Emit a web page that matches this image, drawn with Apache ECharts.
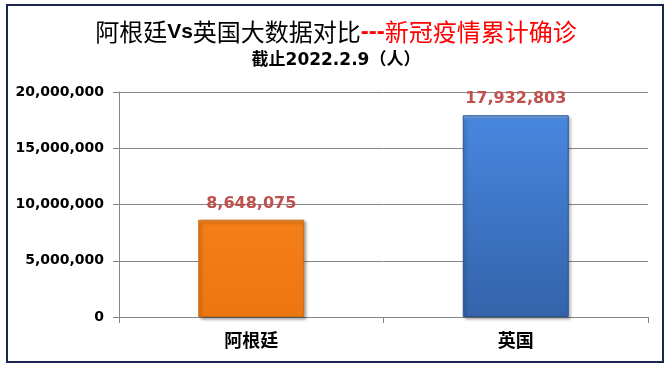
<!DOCTYPE html>
<html>
<head>
<meta charset="utf-8">
<script src="https://cdn.jsdelivr.net/npm/echarts@6/dist/echarts.min.js"></script>
<style>
html,body{margin:0;padding:0;background:#fff;}
#chart{width:672px;height:368px;}
</style>
</head>
<body>
<div id="chart"></div>
<script>
const categories = ['阿根廷', '英国'];
const confirmed = [8648075, 17932803];
const yTicks = [0, 5000000, 10000000, 15000000, 20000000];

const barColors = [
  { fill: ['#f9a24c', '#f47e18', '#ee7610'], border: '#c86a10' },
  { fill: ['#80b5f2', '#4786de', '#3463aa'], border: '#2a5592' }
];

function fmt(v) {
  return String(v).replace(/\B(?=(\d{3})+(?!\d))/g, ',');
}

const chart = echarts.init(document.getElementById('chart'), null, { renderer: 'canvas' });

const data = confirmed.map((v, i) => ({
  value: v,
  itemStyle: {
    color: new echarts.graphic.LinearGradient(0, 0, 0, 1, [
      { offset: 0, color: barColors[i].fill[0] },
      { offset: 0.025, color: barColors[i].fill[1] },
      { offset: 1, color: barColors[i].fill[2] }
    ]),
    borderColor: barColors[i].border,
    borderWidth: 1,
    shadowColor: 'rgba(0,0,0,0.35)',
    shadowBlur: 3,
    shadowOffsetX: 2,
    shadowOffsetY: 2
  }
}));

chart.setOption({
  animation: false,
  backgroundColor: '#ffffff',
  graphic: [{
    type: 'rect',
    shape: { x: 7, y: 5, width: 656, height: 357 },
    style: { fill: 'none', stroke: '#1a2552', lineWidth: 2 },
    silent: true
  }],
  title: [{
    left: 'center',
    top: 15,
    text: '{a|阿根廷}{v|Vs}{a|英国大数据对比}{r|---}{c|新冠疫情累计确诊}',
    textStyle: {
      rich: {
        a: { fontFamily: 'Noto Sans CJK SC', fontSize: 24, color: '#000', fontWeight: 'normal' },
        v: { fontFamily: 'Liberation Sans', fontSize: 21, color: '#000', fontWeight: 'bold' },
        r: { fontFamily: 'Liberation Sans', fontSize: 24, color: '#ff0000', fontWeight: 'bold' },
        c: { fontFamily: 'Noto Sans CJK SC', fontSize: 24, color: '#ff0000', fontWeight: 'normal' }
      }
    }
  }, {
    left: 'center',
    top: 47,
    text: '截止2022.2.9（人）',
    textStyle: {
      fontFamily: 'DejaVu Sans, Noto Sans CJK SC',
      fontSize: 17,
      fontWeight: 'bold',
      color: '#000'
    }
  }],
  grid: { left: 119, right: 24, top: 92, bottom: 51, containLabel: false },
  xAxis: {
    type: 'category',
    data: categories,
    axisLine: { show: true, lineStyle: { color: '#868686', width: 1 } },
    axisTick: { show: true, length: 6, lineStyle: { color: '#868686' } },
    axisLabel: {
      margin: 14,
      color: '#000',
      fontSize: 18,
      fontWeight: 'bold',
      fontFamily: 'Noto Sans CJK SC'
    }
  },
  yAxis: {
    type: 'value',
    min: yTicks[0],
    max: yTicks[yTicks.length - 1],
    interval: yTicks[1] - yTicks[0],
    axisLine: { show: true, lineStyle: { color: '#868686', width: 1 } },
    axisTick: { show: true, length: 6, inside: false, lineStyle: { color: '#868686' } },
    splitLine: { show: true, lineStyle: { color: '#868686', width: 1 } },
    axisLabel: {
      margin: 15,
      color: '#000',
      fontSize: 14,
      fontWeight: 'bold',
      fontFamily: 'DejaVu Sans',
      formatter: v => fmt(v)
    }
  },
  series: [{
    type: 'bar',
    data: data,
    barWidth: 106,
    label: {
      show: true,
      position: 'top',
      distance: 8,
      color: '#c0504d',
      fontSize: 16,
      fontWeight: 'bold',
      fontFamily: 'DejaVu Sans',
      formatter: p => fmt(p.value)
    }
  }]
});
</script>
</body>
</html>
